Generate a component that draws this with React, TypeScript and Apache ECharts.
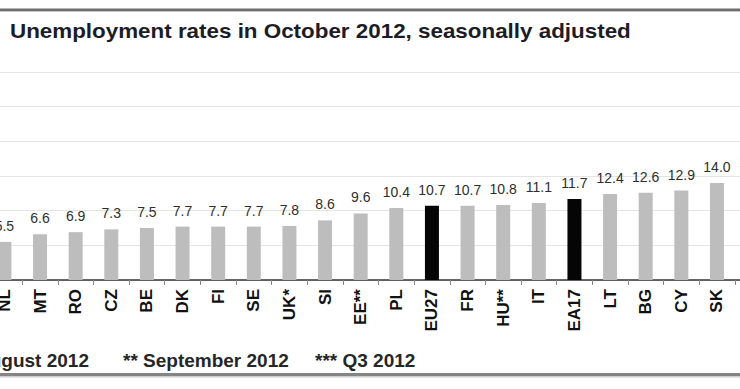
import React, { useEffect, useRef } from "react";
import * as echarts from "echarts";

const categories = ["NL", "MT", "RO", "CZ", "BE", "DK", "FI", "SE", "UK*", "SI", "EE**", "PL", "EU27", "FR", "HU**", "IT", "EA17", "LT", "BG", "CY", "SK", "IE"];
const values = [5.5, 6.6, 6.9, 7.3, 7.5, 7.7, 7.7, 7.7, 7.8, 8.6, 9.6, 10.4, 10.7, 10.7, 10.8, 11.1, 11.7, 12.4, 12.6, 12.9, 14.0, 14.7];
const highlighted = ["EU27", "EA17"];
const titleText = "Unemployment rates in October 2012, seasonally adjusted";
const notes = ["* August 2012", "** September 2012", "*** Q3 2012"];

const FONT = "'Liberation Sans', Arial, Helvetica, sans-serif";
const OFFSET = 30; // inner canvas is shifted left so the chart is cropped like the reference

export default function App() {
  const ref = useRef<HTMLDivElement>(null);
  useEffect(() => {
    document.body.style.margin = "0";
    const chart = echarts.init(ref.current!, null, { renderer: "svg" });
    chart.setOption({
      animation: false,
      backgroundColor: "#ffffff",
      grid: { left: 16.6, width: 783.8, top: 72, bottom: 109, containLabel: false },
      xAxis: {
        type: "category",
        data: categories,
        axisLine: { lineStyle: { color: "#333333", width: 1.5 } },
        axisTick: { show: true, length: 5, lineStyle: { color: "#888888" } },
        axisLabel: {
          rotate: 90,
          margin: 9,
          fontFamily: FONT,
          fontWeight: "bold",
          fontSize: 17,
          color: "#111111",
          interval: 0,
        },
      },
      yAxis: {
        type: "value",
        min: 0,
        max: 30,
        interval: 5,
        axisLabel: { show: false },
        axisLine: { show: false },
        axisTick: { show: false },
        splitLine: { lineStyle: { color: "#e4e4e4", width: 1 } },
      },
      series: [
        {
          type: "bar",
          barWidth: 14,
          data: values.map((v, i) => ({
            value: v,
            itemStyle: { color: highlighted.includes(categories[i]) ? "#050505" : "#bdbdbd" },
          })),
          label: {
            show: true,
            position: "top",
            distance: 9,
            fontFamily: FONT,
            fontSize: 14,
            color: "#2e2e2e",
            formatter: (p: any) => Number(p.value).toFixed(1),
          },
        },
      ],
      graphic: [
        { type: "rect", shape: { x: 0, y: 8.5, width: 820, height: 2.5 }, style: { fill: "#6e6e6e" } },
        { type: "rect", shape: { x: 0, y: 11, width: 820, height: 1 }, style: { fill: "#c8c8c8" } },
        { type: "rect", shape: { x: 0, y: 373, width: 820, height: 3 }, style: { fill: "#858585" } },
        { type: "rect", shape: { x: 0, y: 376, width: 820, height: 1.5 }, style: { fill: "#cfcfcf" } },
        {
          type: "text",
          x: 10 + OFFSET,
          y: 31,
          scaleX: 1.12,
          style: {
            text: titleText,
            font: `bold 20px ${FONT}`,
            fill: "#1c1c26",
            verticalAlign: "middle",
          },
        },
        {
          type: "text",
          x: 89 + OFFSET,
          y: 360,
          style: { text: notes[0], font: `bold 19px ${FONT}`, fill: "#262626", align: "right", verticalAlign: "middle" },
        },
        {
          type: "text",
          x: 123 + OFFSET,
          y: 360,
          style: { text: notes[1], font: `bold 19px ${FONT}`, fill: "#262626", align: "left", verticalAlign: "middle" },
        },
        {
          type: "text",
          x: 315 + OFFSET,
          y: 360,
          style: { text: notes[2], font: `bold 19px ${FONT}`, fill: "#262626", align: "left", verticalAlign: "middle" },
        },
      ],
    });
    return () => chart.dispose();
  }, []);
  return (
    <div style={{ position: "relative", width: 740, height: 389, overflow: "hidden", background: "#fff" }}>
      <div ref={ref} style={{ position: "absolute", left: -OFFSET, top: 0, width: 820, height: 389 }} />
    </div>
  );
}
